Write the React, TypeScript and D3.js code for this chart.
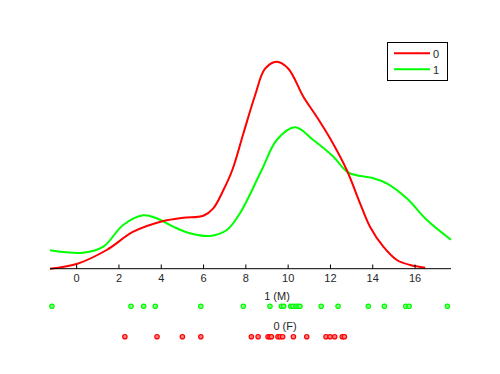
import React from "react";
import * as d3 from "d3";

// KDE curves (x value, density)
const redCurveX = [-1.26, 0, 1.42, 2.68, 4.1, 5.04, 5.99, 6.46, 6.94, 7.36, 7.88, 8.43, 8.91, 9.46, 10.01, 10.72, 11.35, 11.98, 12.77, 13.4, 13.87, 14.5, 15.14, 15.77, 16.48];
const redCurveY = [0, 0.0047, 0.0187, 0.037, 0.0477, 0.051, 0.053, 0.0604, 0.0787, 0.0987, 0.135, 0.173, 0.2, 0.207, 0.2, 0.172, 0.152, 0.1304, 0.0987, 0.0654, 0.042, 0.022, 0.0087, 0.0037, 0.001];
const greenCurveX = [-1.26, 0.31, 1.26, 2.2, 3.15, 3.78, 4.57, 5.36, 6.3, 7.1, 7.72, 8.75, 9.46, 10.33, 11.19, 12.14, 12.85, 14.03, 14.66, 15.61, 16.56, 17.7];
const greenCurveY = [0.0184, 0.016, 0.022, 0.0437, 0.0534, 0.0504, 0.042, 0.0354, 0.0327, 0.0387, 0.0554, 0.0987, 0.1287, 0.1414, 0.1287, 0.112, 0.096, 0.0904, 0.0854, 0.0704, 0.0487, 0.029];

// raw observations
const maleValues = [-1.17, 2.57, 3.17, 3.72, 5.87, 7.88, 9.14, 9.68, 9.79, 10.12, 10.23, 10.37, 10.47, 10.56, 11.56, 12.36, 13.79, 14.55, 15.56, 15.72, 17.53];
const femaleValues = [2.28, 3.8, 5.0, 5.87, 8.26, 8.58, 9.05, 9.14, 9.21, 9.52, 9.62, 9.74, 10.25, 10.88, 11.79, 11.98, 12.2, 12.56, 12.66];

const xTicks = [0, 2, 4, 6, 8, 10, 12, 14, 16];
const legendLabels = ["0", "1"];
const groupLabels = ["1 (M)", "0 (F)"];

export default function App() {
  const x = d3.scaleLinear().domain([-1.26, 17.7]).range([50, 451]);
  const y = d3.scaleLinear().domain([0, 0.23]).range([268.7, 38.7]);
  const line = d3
    .line<[number, number]>()
    .x((d) => x(d[0]))
    .y((d) => y(d[1]))
    .curve(d3.curveCatmullRom.alpha(0.5));
  const red = redCurveX.map((v, i) => [v, redCurveY[i]] as [number, number]);
  const green = greenCurveX.map((v, i) => [v, greenCurveY[i]] as [number, number]);
  const font = "Liberation Sans, Arial, sans-serif";
  return (
    <svg width={500} height={374} style={{ position: "absolute", left: 0, top: 0, background: "#fff" }}>
      <path d={line(green) || ""} fill="none" stroke="#00ff00" strokeWidth={2} />
      <path d={line(red) || ""} fill="none" stroke="#ff0000" strokeWidth={2} />
      <line x1={50} x2={451} y1={268.7} y2={268.7} stroke="#000" strokeWidth={1} />
      {xTicks.map((t) => (
        <g key={t}>
          <line x1={x(t)} x2={x(t)} y1={268.7} y2={264.5} stroke="#000" strokeWidth={1} />
          <text x={x(t)} y={282} textAnchor="middle" fontFamily={font} fontSize={11} fill="#262626">
            {t}
          </text>
        </g>
      ))}
      <text x={277} y={300} textAnchor="middle" fontFamily={font} fontSize={11} fill="#262626">
        {groupLabels[0]}
      </text>
      <text x={285} y={330} textAnchor="middle" fontFamily={font} fontSize={11} fill="#262626">
        {groupLabels[1]}
      </text>
      {maleValues.map((v, i) => (
        <circle key={"m" + i} cx={x(v)} cy={306.3} r={2.2} fill="#7fff7f" stroke="#00ff00" strokeWidth={1.2} />
      ))}
      {femaleValues.map((v, i) => (
        <circle key={"f" + i} cx={x(v)} cy={336.7} r={2.2} fill="#ff7f7f" stroke="#ff0000" strokeWidth={1.2} />
      ))}
      <rect x={387.5} y={42.5} width={60} height={38} fill="#fff" stroke="#000" strokeWidth={1} />
      <line x1={394} x2={430} y1={53.3} y2={53.3} stroke="#ff0000" strokeWidth={2} />
      <line x1={394} x2={430} y1={69.3} y2={69.3} stroke="#00ff00" strokeWidth={2} />
      <text x={433} y={57.5} fontFamily={font} fontSize={11} fill="#262626">
        {legendLabels[0]}
      </text>
      <text x={433} y={73.5} fontFamily={font} fontSize={11} fill="#262626">
        {legendLabels[1]}
      </text>
    </svg>
  );
}
